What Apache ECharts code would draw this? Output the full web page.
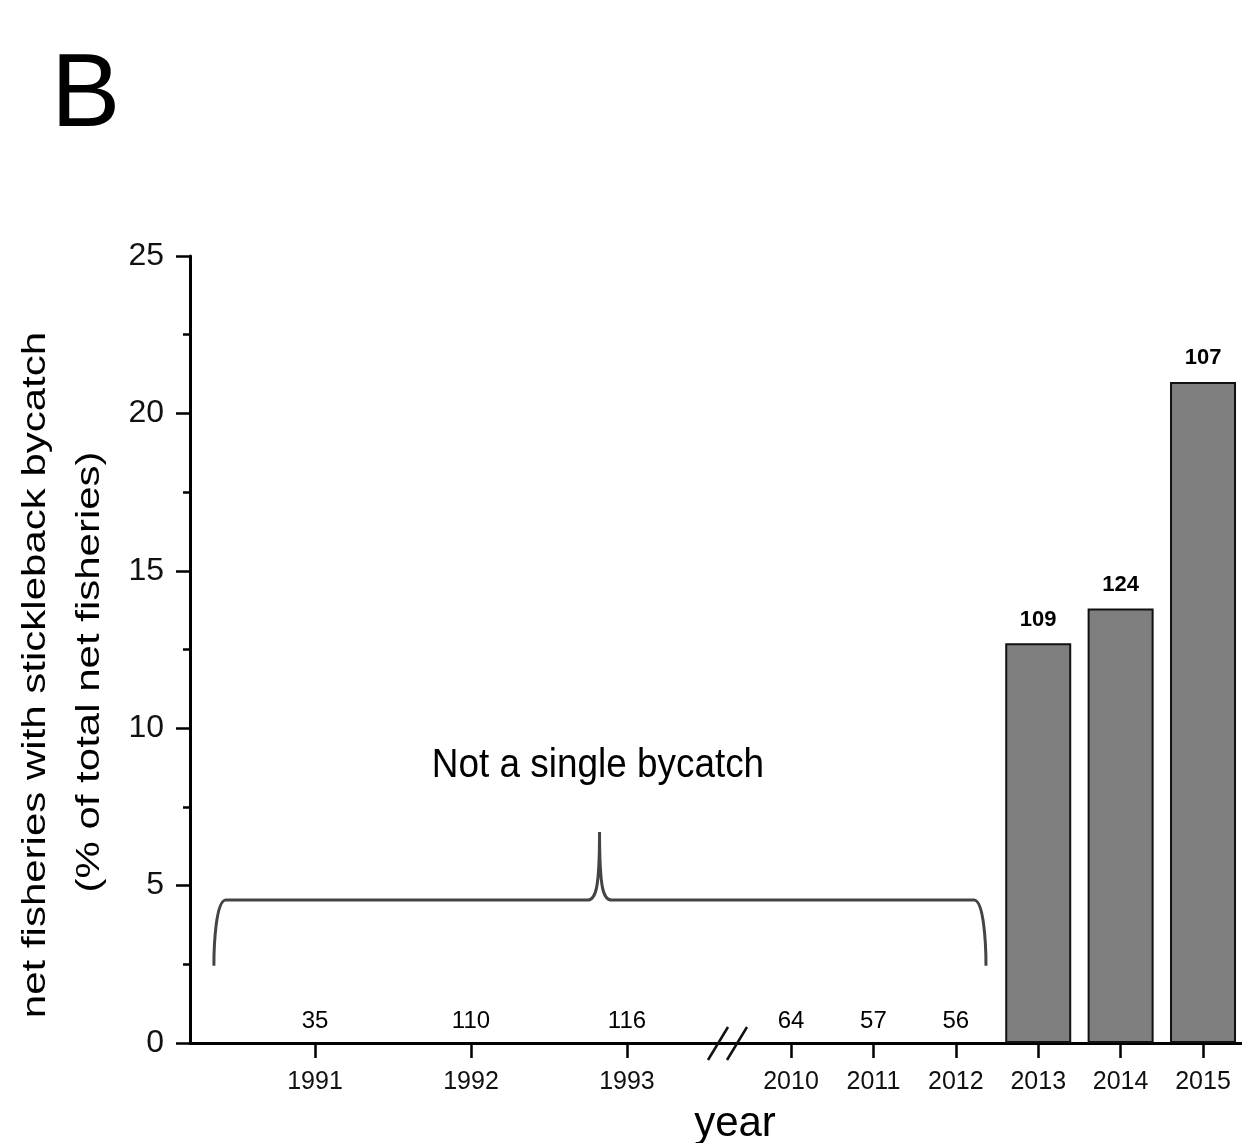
<!DOCTYPE html>
<html><head><meta charset="utf-8">
<script src="https://cdn.jsdelivr.net/npm/echarts@6/dist/echarts.min.js"></script>
<style>html,body{margin:0;padding:0;background:#fff}#c{width:1242px;height:1143px}</style>
</head><body><div id="c"></div>
<script>
// ---- data ----
const years = [1991, 1992, 1993, 2010, 2011, 2012, 2013, 2014, 2015];
const netCounts = [35, 110, 116, 64, 57, 56, 109, 124, 107];
const bycatchPct = [0, 0, 0, 0, 0, 0, 12.7, 13.8, 21.0];
const yTicks = [0, 5, 10, 15, 20, 25];
const annotationText = 'Not a single bycatch';
const yTitle1 = 'net fisheries with stickleback bycatch';
const yTitle2 = '(% of total net fisheries)';
const xTitle = 'year';
const panelLetter = 'B';

// ---- layout: positions of years on a broken axis ----
const PRE_START = 1.517, PRE_STEP = 1.893, POST_START = 7.294, POST_STEP = 1.0;
const X_MAX = 12.767, BREAK_POS = 6.517;
function pos(y) { return y < 2000 ? PRE_START + (y - 1991) * PRE_STEP : POST_START + (y - 2010) * POST_STEP; }
const yearPos = years.map(pos);
function yearAt(v) {
  let best = 0, d = 1e9;
  yearPos.forEach((p, i) => { if (Math.abs(p - v) < d) { d = Math.abs(p - v); best = i; } });
  return String(years[best]);
}
// brace in data coordinates
const BRACE = { x0: 0.29, x1: 9.66, xm: 4.97, yEnd: 2.45, yBar: 4.54, yPeak: 6.7 };

const FONT = '"Liberation Sans", Arial, sans-serif';
const chart = echarts.init(document.getElementById('c'), null, { renderer: 'canvas' });

const barData = [];
years.forEach((y, i) => { if (bycatchPct[i] > 0) barData.push([yearPos[i], bycatchPct[i]]); });
const labelData = years.map((y, i) => ({
  value: [yearPos[i], bycatchPct[i]],
  label: bycatchPct[i] > 0
    ? { fontWeight: 'bold', fontSize: 22, distance: 12, color: '#000' }
    : { fontWeight: 'normal', fontSize: 24, distance: 9, color: '#000' }
}));

chart.setOption({
  animation: false,
  backgroundColor: '#fff',
  grid: { left: 190, right: 0, top: 256, bottom: 100, containLabel: false },
  xAxis: {
    type: 'value', min: 0, max: X_MAX,
    splitLine: { show: false },
    axisLine: { show: true, onZero: false, lineStyle: { color: '#000', width: 3 } },
    axisTick: { show: true, customValues: yearPos, length: 15, lineStyle: { color: '#000', width: 2.5 } },
    axisLabel: { show: true, customValues: yearPos, formatter: v => yearAt(v), margin: 27,
      fontSize: 25, color: '#111', fontFamily: FONT },
  },
  yAxis: {
    type: 'value', min: 0, max: 25, interval: 5,
    splitLine: { show: false },
    axisLine: { show: true, lineStyle: { color: '#000', width: 3 } },
    axisTick: { show: true, length: 14, lineStyle: { color: '#000', width: 2.5 } },
    minorTick: { show: true, splitNumber: 2, length: 7, lineStyle: { color: '#000', width: 2.5 } },
    axisLabel: { margin: 26, fontSize: 32, color: '#111', fontFamily: FONT,
      formatter: v => yTicks.includes(v) ? String(v) : '' },
  },
  series: [
    {
      type: 'bar', data: barData, barWidth: 66,
      itemStyle: { color: '#7f7f7f', borderColor: '#111', borderWidth: 2 },
      z: 2
    },
    {
      type: 'scatter', data: labelData, symbolSize: 1,
      itemStyle: { color: 'rgba(0,0,0,0)', opacity: 1 },
      label: { show: true, position: 'top', color: '#000', fontFamily: FONT,
        formatter: p => String(netCounts[p.dataIndex]) },
      emphasis: { disabled: true },
      z: 5
    },
    {
      type: 'custom', data: [[BRACE.x0, BRACE.yEnd]], z: 4, silent: true,
      renderItem: (params, api) => {
        const pL = api.coord([BRACE.x0, BRACE.yEnd]);
        const pR = api.coord([BRACE.x1, BRACE.yEnd]);
        const pB = api.coord([BRACE.xm, BRACE.yBar]);
        const pT = api.coord([BRACE.xm, BRACE.yPeak]);
        const yb = pB[1], xm = pT[0];
        const d = `M ${pL[0]} ${pL[1]} C ${pL[0]} ${yb + 45}, ${pL[0] + 2} ${yb}, ${pL[0] + 12} ${yb}` +
          ` L ${xm - 12} ${yb} C ${xm - 4} ${yb}, ${xm} ${yb - 10}, ${xm} ${pT[1]}` +
          ` C ${xm} ${yb - 10}, ${xm + 4} ${yb}, ${xm + 12} ${yb}` +
          ` L ${pR[0] - 12} ${yb} C ${pR[0] - 2} ${yb}, ${pR[0]} ${yb + 45}, ${pR[0]} ${pR[1]}`;
        return { type: 'path', shape: { pathData: d },
          style: { fill: null, stroke: '#444', lineWidth: 3 } };
      }
    },
    {
      type: 'custom', data: [[BREAK_POS, 0]], z: 6, silent: true,
      renderItem: (params, api) => {
        const c = api.coord([BREAK_POS, 0]);
        const mk = dx => ({ type: 'line',
          shape: { x1: c[0] + dx - 10, y1: c[1] + 17, x2: c[0] + dx + 10, y2: c[1] - 16 },
          style: { stroke: '#111', lineWidth: 2.5 } });
        return { type: 'group', children: [mk(-9), mk(10)] };
      }
    }
  ],
  graphic: [
    { type: 'text', left: 51, top: 45, style: { text: panelLetter, fontSize: 104, fontFamily: FONT, fill: '#000' } },
    { type: 'text', x: 598, y: 766, scaleX: 0.9, style: { text: annotationText, fontSize: 41, fontFamily: FONT, fill: '#000',
      align: 'center', verticalAlign: 'middle' } },
    { type: 'text', x: 735, y: 1124, style: { text: xTitle, fontSize: 42, fontFamily: FONT, fill: '#000',
      align: 'center', verticalAlign: 'middle' } },
    { type: 'text', x: 36, y: 675, rotation: Math.PI / 2, scaleY: 0.78, style: { text: yTitle1, fontSize: 42, fontFamily: FONT,
      fill: '#000', align: 'center', verticalAlign: 'middle' } },
    { type: 'text', x: 90, y: 672, rotation: Math.PI / 2, scaleY: 0.78, style: { text: yTitle2, fontSize: 42, fontFamily: FONT,
      fill: '#000', align: 'center', verticalAlign: 'middle' } }
  ]
});
</script>
</body></html>
